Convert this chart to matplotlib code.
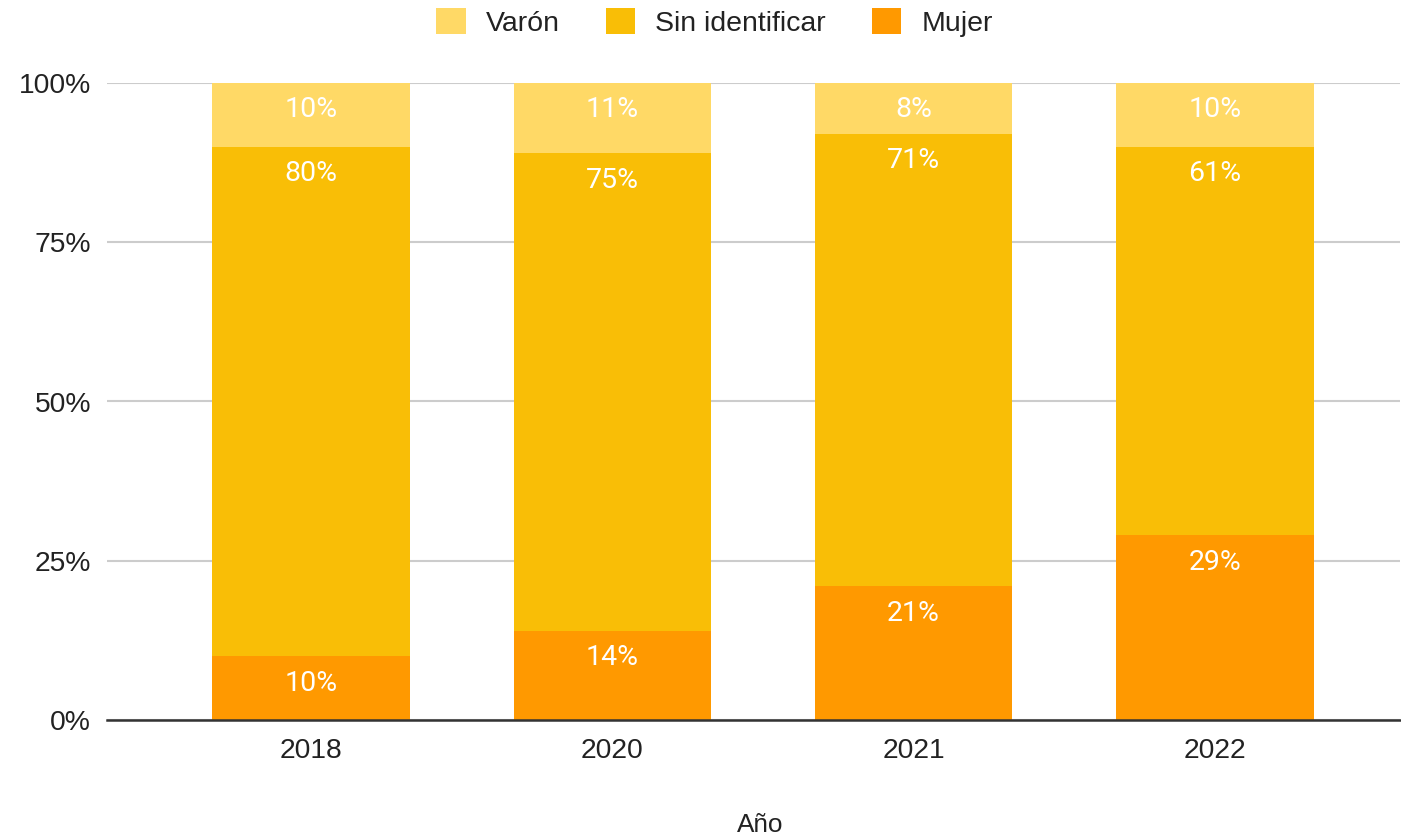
import matplotlib
matplotlib.use("Agg")
import matplotlib.pyplot as plt
from matplotlib.patches import Patch
import numpy as np

plt.rcParams['font.family'] = ['Liberation Sans', 'DejaVu Sans']

years = ["2018", "2020", "2021", "2022"]
mujer = [10, 14, 21, 29]
sin_identificar = [80, 75, 71, 61]
varon = [10, 11, 8, 10]

series = [("Mujer", mujer, "#FF9900"),
          ("Sin identificar", sin_identificar, "#F9BE06"),
          ("Varón", varon, "#FFD966")]

W, H = 1401, 838
fig = plt.figure(figsize=(W / 100, H / 100), dpi=100)
ax = fig.add_axes([107 / W, 1 - 720 / H, (1400 - 107) / W, (720 - 83) / H])

x = np.arange(len(years))
bottom = np.zeros(len(years))
handles = {}
for name, vals, color in series:
    v = np.array(vals, dtype=float) / 100
    ax.bar(x, v, bottom=bottom, width=0.654, color=color, zorder=3, linewidth=0)
    handles[name] = Patch(facecolor=color, edgecolor='none')
    for xi, b, val in zip(x, bottom + v, vals):
        ax.annotate(f"{val}%", (xi, b), xytext=(0, -19.4), textcoords='offset points',
                    ha='center', va='center', color='white', fontsize=20.5,
                    family=['Roboto', 'DejaVu Sans'], zorder=4)
    bottom = bottom + v

ax.set_ylim(0, 1)
ax.set_xlim(-0.677, 3.614)
ax.set_yticks([0, 0.25, 0.5, 0.75, 1.0])
ax.set_yticklabels(["0%", "25%", "50%", "75%", "100%"])
ax.set_xticks(x)
ax.set_xticklabels(years)
ax.tick_params(axis='both', length=0, labelsize=20.3, colors='#222222')
ax.tick_params(axis='x', pad=13)
ax.tick_params(axis='y', pad=11.5)
ax.grid(axis='y', color='#CCCCCC', linewidth=1.5, zorder=0)
for s in ['top', 'right', 'left']:
    ax.spines[s].set_visible(False)
ax.spines['bottom'].set_color('#333333')
ax.spines['bottom'].set_linewidth(1.8)
ax.spines['bottom'].set_zorder(5)

fig.text(760 / W, 1 - 825 / H, "Año", ha='center', va='center', fontsize=18.8, color='#222222')

order = ["Varón", "Sin identificar", "Mujer"]
fig.legend([handles[n] for n in order], order, loc='center', bbox_to_anchor=(714.5 / W, 1 - 22.5 / H),
           ncol=3, frameon=False, fontsize=20.5, handlelength=1.05, handleheight=1.02,
           handletextpad=0.7, columnspacing=1.6, labelcolor='#222222')

fig.savefig("out.png", dpi=100)
